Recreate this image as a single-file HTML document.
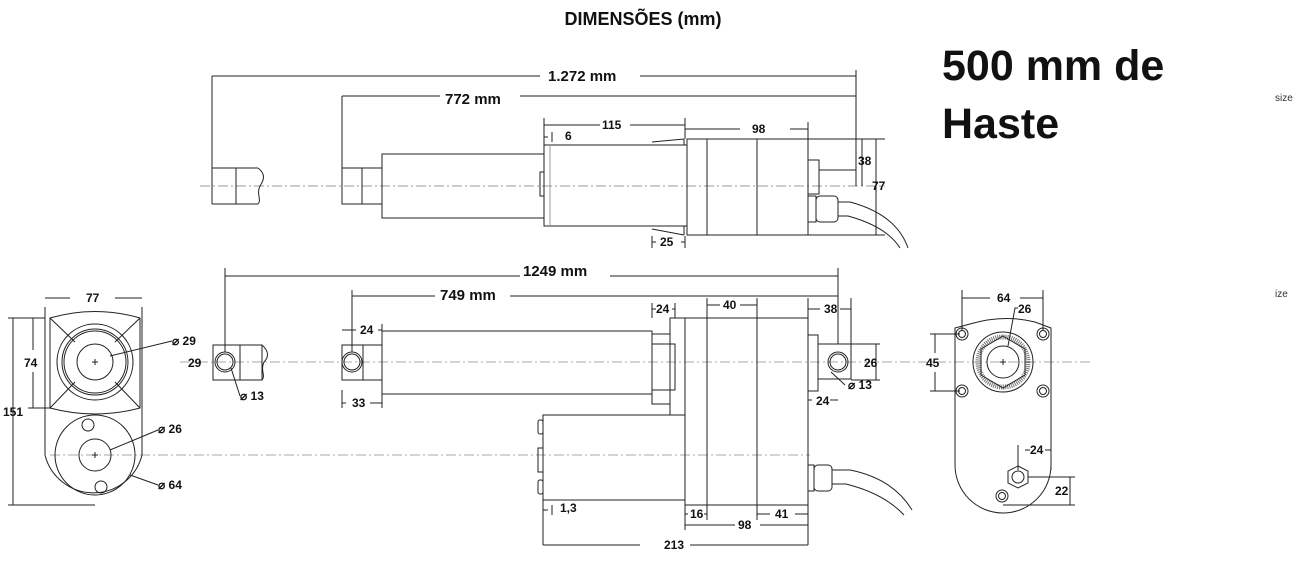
<!DOCTYPE html>
<html><head><meta charset="utf-8"><style>
html,body{margin:0;padding:0;background:#fff;}
svg{display:block}
text{font-family:"Liberation Sans",sans-serif;fill:#111}
.d{font-size:12px;font-weight:bold}
.b{font-size:15px;font-weight:bold}
</style></head><body>
<svg width="1300" height="564" viewBox="0 0 1300 564" xmlns="http://www.w3.org/2000/svg">
<g fill="none" stroke="#222" stroke-width="1">
<line x1="200" y1="186" x2="885" y2="186" stroke="#999" stroke-dasharray="10,3,2,3"/>
<line x1="180" y1="362" x2="1090" y2="362" stroke="#aaa" stroke-dasharray="10,3,2,3"/>
<line x1="50" y1="455" x2="810" y2="455" stroke="#aaa" stroke-dasharray="10,3,2,3"/>

<path d="M212 168 H258 M212 204 H258 M212 168 V204 M236 168 V204"/>
<path d="M258 168 C266 174 264 180 260 186 C256 194 262 200 258 204"/>
<rect x="342" y="168" width="40" height="36"/><line x1="362" y1="168" x2="362" y2="204"/>
<rect x="382" y="154" width="162" height="64"/>
<rect x="544" y="145" width="143" height="81"/><line x1="550" y1="145" x2="550" y2="226" stroke="#999"/>
<rect x="540" y="172" width="4" height="24"/>
<path d="M652 142 L684 139 M652 229 L684 235 M684 139 V145 M684 226 V235"/>
<rect x="687" y="139" width="121" height="96"/>
<line x1="707" y1="139" x2="707" y2="235"/><line x1="757" y1="139" x2="757" y2="235"/>
<rect x="808" y="160" width="11" height="34"/>
<path d="M819 170 H856 V186"/>
<rect x="808" y="196" width="8" height="26"/><rect x="816" y="196" width="22" height="26" rx="4"/>
<path d="M838 202 H850 C880 210 900 225 908 248 M838 216 H848 C870 222 890 232 900 248"/>
<path d="M212 76 V168 M856 70 V186 M342 96 V168"/>
<path d="M212 76 H540 M640 76 H856 M342 96 H440 M520 96 H856"/>
<path d="M544 118 V145 M685 118 V139 M544 125 H600 M630 125 H685"/>
<path d="M685 129 H740 M790 129 H808 M808 122 V139"/>
<path d="M544 137 H548 M552 132 V142"/>
<path d="M808 139 H885 M808 235 H885 M862 139 V186 M876 139 V235"/>
<path d="M652 236 V248 M685 236 V248 M652 242 H656 M681 242 H685"/>

<rect x="213" y="345" width="49" height="35"/><line x1="240" y1="345" x2="240" y2="380"/>
<path d="M262 345 C270 352 268 358 264 362 C260 370 266 376 262 380"/>
<circle cx="225" cy="362" r="10"/><circle cx="225" cy="362" r="8"/>
<rect x="342" y="345" width="40" height="35"/><line x1="363" y1="345" x2="363" y2="380"/>
<circle cx="352" cy="362" r="10"/><circle cx="352" cy="362" r="8"/>
<rect x="382" y="331" width="270" height="63"/>
<rect x="652" y="334" width="18" height="70"/><rect x="652" y="344" width="23" height="46"/>
<rect x="670" y="318" width="15" height="97"/>
<rect x="685" y="318" width="123" height="187"/>
<line x1="707" y1="318" x2="707" y2="505"/><line x1="757" y1="318" x2="757" y2="505"/>
<rect x="543" y="415" width="142" height="85"/>
<rect x="538" y="420" width="5" height="14" rx="2"/><rect x="538" y="448" width="5" height="24"/><rect x="538" y="480" width="5" height="14" rx="2"/>
<rect x="808" y="335" width="10" height="56"/>
<rect x="818" y="344" width="33" height="35"/>
<circle cx="838" cy="362" r="10"/><circle cx="838" cy="362" r="8"/>
<rect x="808" y="465" width="6" height="26"/><rect x="814" y="465" width="18" height="26" rx="4"/>
<path d="M832 470 H850 C880 476 900 490 912 510 M832 484 H846 C870 490 890 500 904 515"/>
<path d="M225 268 V352 M838 268 V344 M352 290 V352"/>
<path d="M225 276 H520 M610 276 H838 M352 296 H435 M510 296 H838"/>
<path d="M652 303 V318 M675 303 V318 M707 298 V318 M757 298 V318 M808 298 V318 M851 298 V344"/>
<path d="M652 309 H656 M672 309 H675 M707 305 H720 M740 305 H757 M808 309 H820 M840 309 H851"/>
<path d="M342 330 H356 M378 330 H382 M382 324 V331"/>
<path d="M342 390 V408 M382 394 V408 M342 403 H346 M370 403 H382"/>
<path d="M808 400 H812 M830 400 H838"/>
<path d="M543 500 V545 M808 505 V545 M685 505 V530 M707 505 V520 M757 505 V520"/>
<path d="M543 545 H640 M690 545 H808 M685 525 H735 M760 525 H808 M543 510 H548 M552 505 V515 M685 514 H688 M704 514 H707 M757 514 H770 M795 514 H808"/>
<path d="M851 344 H880 M851 380 H880 M876 344 V380"/>
<path d="M831 372 L845 385"/>

<path d="M45 317 V455 A50 50 0 0 0 142 455 V317"/>
<path d="M45 307 V317 M142 307 V317 M45 298 H70 M115 298 H142"/>
<path d="M50 318 Q95 305 140 318 L140 408 Q95 420 50 408 Z"/>
<path d="M50 318 L75 342 M140 318 L115 342 M50 408 L75 382 M140 408 L115 382"/>
<circle cx="95" cy="362" r="38"/><circle cx="95" cy="362" r="33"/><circle cx="95" cy="362" r="31"/><circle cx="95" cy="362" r="18"/>
<path d="M92 362 H98 M95 359 V365"/>
<circle cx="95" cy="455" r="40"/><circle cx="95" cy="455" r="16"/>
<path d="M92 455 H98 M95 452 V458"/>
<circle cx="88" cy="425" r="6"/><circle cx="101" cy="487" r="6"/>
<path d="M110 356 L172 341 M110 450 L158 430 M130 475 L158 485"/>
<path d="M8 318 H45 M8 505 H95 M13 318 V505 M28 318 H45 M28 408 H50 M33 318 V350 M33 372 V408"/>
<path d="M231 368 L240 396"/>

<path d="M955 328 L970 324 Q1003 314 1035 322 L1051 328 V465 A48 48 0 0 1 955 465 Z"/>
<circle cx="962" cy="334" r="6"/><circle cx="962" cy="334" r="3.5"/>
<circle cx="1043" cy="334" r="6"/><circle cx="1043" cy="334" r="3.5"/>
<circle cx="962" cy="391" r="6"/><circle cx="962" cy="391" r="3.5"/>
<circle cx="1043" cy="391" r="6"/><circle cx="1043" cy="391" r="3.5"/>
<circle cx="1002" cy="496" r="6"/><circle cx="1002" cy="496" r="3.5"/>
<circle cx="1003" cy="362" r="30"/><circle cx="1003" cy="362" r="25" stroke-width="5" stroke="#777" stroke-dasharray="1,1"/>
<polygon points="1003,336 1025,349 1025,375 1003,388 981,375 981,349"/>
<circle cx="1003" cy="362" r="16"/>
<path d="M1000 362 H1006 M1003 359 V365 M1008 346 L1015 308 L1018 308"/>
<polygon points="1018,466 1028,471 1028,483 1018,488 1008,483 1008,471"/><circle cx="1018" cy="477" r="6"/>
<path d="M962 290 V330 M1043 290 V330 M962 298 H990 M1020 298 H1043"/>
<path d="M930 334 H960 M930 391 H960 M935 334 V353 M935 372 V391"/>
<path d="M1018 445 V470 M1051 445 V470 M1025 450 H1030 M1045 450 H1051"/>
<path d="M1028 477 H1075 M1003 505 H1075 M1070 477 V505"/>
</g>

<text x="643" y="25" text-anchor="middle" style="font-size:18px;font-weight:bold">DIMENSÕES (mm)</text>
<text x="942" y="80" style="font-size:43px;font-weight:bold">500 mm de</text>
<text x="942" y="138" style="font-size:43px;font-weight:bold">Haste</text>
<text x="1275" y="101" style="font-size:10px;fill:#333">size</text>
<text x="1275" y="297" style="font-size:10px;fill:#333">ize</text>

<text x="548" y="81" class="b">1.272 mm</text>
<text x="445" y="104" class="b">772 mm</text>
<text x="602" y="129" class="d">115</text>
<text x="565" y="140" class="d">6</text>
<text x="752" y="133" class="d">98</text>
<text x="858" y="165" class="d">38</text>
<text x="872" y="190" class="d">77</text>
<text x="660" y="246" class="d">25</text>

<text x="523" y="276" class="b">1249 mm</text>
<text x="440" y="300" class="b">749 mm</text>
<text x="656" y="313" class="d">24</text>
<text x="723" y="309" class="d">40</text>
<text x="824" y="313" class="d">38</text>
<text x="360" y="334" class="d">24</text>
<text x="352" y="407" class="d">33</text>
<text x="864" y="367" class="d">26</text>
<text x="848" y="389" class="d">⌀ 13</text>
<text x="816" y="405" class="d">24</text>
<text x="560" y="512" class="d">1,3</text>
<text x="690" y="518" class="d">16</text>
<text x="775" y="518" class="d">41</text>
<text x="738" y="529" class="d">98</text>
<text x="664" y="549" class="d">213</text>

<text x="86" y="302" class="d">77</text>
<text x="24" y="367" class="d">74</text>
<text x="3" y="416" class="d">151</text>
<text x="172" y="345" class="d">⌀ 29</text>
<text x="188" y="367" class="d">29</text>
<text x="240" y="400" class="d">⌀ 13</text>
<text x="158" y="433" class="d">⌀ 26</text>
<text x="158" y="489" class="d">⌀ 64</text>

<text x="997" y="302" class="d">64</text>
<text x="1018" y="313" class="d">26</text>
<text x="926" y="367" class="d">45</text>
<text x="1030" y="454" class="d">24</text>
<text x="1055" y="495" class="d">22</text>
</svg>
</body></html>
